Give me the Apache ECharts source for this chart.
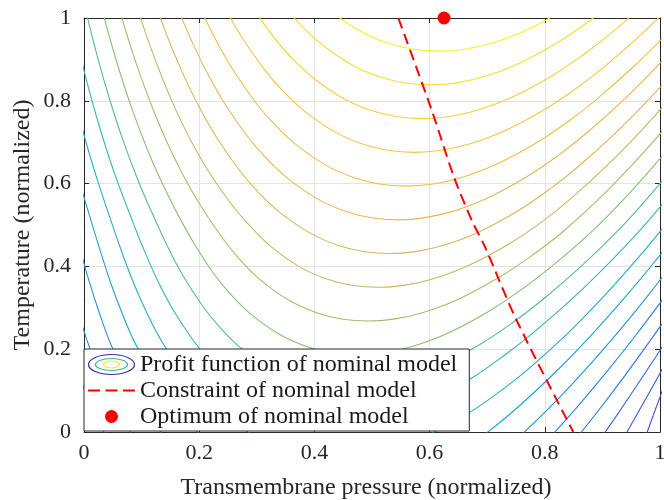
<!DOCTYPE html>
<html>
<head>
<meta charset="utf-8">
<title>Profit function of nominal model</title>
<script src="https://cdn.jsdelivr.net/npm/echarts/dist/echarts.min.js"></script>
<style>
  html, body { margin: 0; padding: 0; background: #fff; }
  #chart { width: 664px; height: 500px; }
</style>
</head>
<body>
<div id="chart"></div>
<script>
// tick values of both axes (normalized)
const tickValues = [0, 0.2, 0.4, 0.6, 0.8, 1];

// contour level of each drawn piece (1 = highest profit, yellow)
const contourLevel = [1, 2, 3, 4, 5, 6, 7, 8, 9, 10, 11, 12, 13, 14, 14, 15, 15, 16, 16, 17, 17, 18, 18, 19, 20];

// contour lines, [pressure, temperature]
const contourPoints = [
  [[0.425,1.02],[0.4774,0.97],[0.5262,0.94],[0.5703,0.925],[0.616,0.92],[0.6635,0.9253],[0.7128,0.9413],[0.7722,0.9733],[0.842,1.0269]],
  [[0.3418,1.0385],[0.3726,0.9885],[0.4107,0.9385],[0.4631,0.8885],[0.5119,0.8585],[0.556,0.8435],[0.6017,0.8385],[0.6492,0.8438],[0.6985,0.8598],[0.7579,0.8919],[0.8277,0.9456],[0.8834,0.9995],[0.9316,1.0536]],
  [[0.2898,1.032],[0.3276,0.957],[0.3583,0.907],[0.3965,0.857],[0.4488,0.807],[0.4977,0.777],[0.5418,0.762],[0.5875,0.757],[0.635,0.7622],[0.6843,0.7778],[0.7436,0.809],[0.8135,0.8612],[0.8691,0.9135],[0.9174,0.966],[0.9814,1.0448]],
  [[0.2444,1.0255],[0.2755,0.9505],[0.3133,0.8755],[0.3441,0.8255],[0.3822,0.7755],[0.4346,0.7255],[0.4834,0.6955],[0.5275,0.6805],[0.5732,0.6755],[0.6207,0.6806],[0.67,0.6961],[0.7294,0.727],[0.7992,0.7786],[0.8549,0.8303],[0.9031,0.8821],[0.9671,0.9599],[1.0246,1.0378]],
  [[0.2034,1.019],[0.2301,0.944],[0.2613,0.869],[0.2991,0.794],[0.3298,0.744],[0.368,0.694],[0.4203,0.644],[0.4692,0.614],[0.5132,0.599],[0.559,0.594],[0.6064,0.5992],[0.6558,0.6147],[0.7151,0.6459],[0.785,0.6979],[0.8406,0.7501],[0.8889,0.8024],[0.9529,0.881],[1.0103,0.9597]],
  [[0.1659,1.0125],[0.1892,0.9375],[0.2158,0.8625],[0.247,0.7875],[0.2848,0.7125],[0.3155,0.6625],[0.3537,0.6125],[0.406,0.5625],[0.4549,0.5325],[0.499,0.5175],[0.5447,0.5125],[0.5922,0.5178],[0.6415,0.5335],[0.7008,0.5652],[0.7707,0.6182],[0.8263,0.6713],[0.8746,0.7246],[0.9386,0.8047],[0.996,0.8851],[1.049,0.9657]],
  [[0.1246,1.031],[0.1516,0.931],[0.1749,0.856],[0.2016,0.781],[0.2328,0.706],[0.2705,0.631],[0.3013,0.581],[0.3394,0.531],[0.3918,0.481],[0.4406,0.451],[0.4847,0.436],[0.5304,0.431],[0.5779,0.4363],[0.6272,0.4521],[0.6866,0.4839],[0.7564,0.537],[0.8121,0.5904],[0.8603,0.6438],[0.9244,0.7243],[0.9818,0.805],[1.0347,0.886]],
  [[0.087,1.0495],[0.1104,0.9495],[0.1374,0.8495],[0.1606,0.7745],[0.1873,0.6995],[0.2185,0.6245],[0.2563,0.5495],[0.287,0.4995],[0.3232,0.4495],[0.3735,0.3995],[0.4212,0.3695],[0.4646,0.3545],[0.5102,0.3495],[0.5578,0.3548],[0.6078,0.3708],[0.6684,0.4029],[0.7405,0.4567],[0.7978,0.5107],[0.8461,0.5648],[0.9101,0.6464],[0.9675,0.7282],[1.0204,0.8103]],
  [[0.0521,1.068],[0.0727,0.968],[0.0961,0.868],[0.1231,0.768],[0.1464,0.693],[0.1731,0.618],[0.2042,0.543],[0.2407,0.468],[0.2695,0.418],[0.3056,0.368],[0.356,0.318],[0.4036,0.288],[0.4471,0.273],[0.4926,0.268],[0.5403,0.2733],[0.5903,0.2894],[0.651,0.3215],[0.7229,0.3754],[0.7808,0.4295],[0.8312,0.4838],[0.8958,0.5655],[0.9533,0.6476],[1.0062,0.7299]],
  [[0.0196,1.0865],[0.0378,0.9865],[0.0584,0.8865],[0.0818,0.7865],[0.1088,0.6865],[0.1321,0.6115],[0.1588,0.5365],[0.1885,0.4615],[0.2232,0.3865],[0.252,0.3365],[0.2881,0.2865],[0.3385,0.2365],[0.3861,0.2065],[0.4299,0.1915],[0.4756,0.1865],[0.5231,0.1918],[0.5727,0.2078],[0.6334,0.2399],[0.7053,0.2937],[0.7632,0.3477],[0.8136,0.4018],[0.8809,0.4834],[0.939,0.5652],[0.9919,0.6473],[1.0414,0.7297]],
  [[0.0054,1.005],[0.0236,0.905],[0.0442,0.805],[0.0676,0.705],[0.0946,0.605],[0.1179,0.53],[0.1427,0.455],[0.1709,0.38],[0.2057,0.305],[0.2344,0.255],[0.2706,0.205],[0.3227,0.155],[0.3716,0.125],[0.4157,0.11],[0.4614,0.105],[0.5089,0.1103],[0.5582,0.1263],[0.6175,0.1583],[0.6879,0.2118],[0.7456,0.2656],[0.7961,0.3195],[0.8633,0.4007],[0.924,0.4822],[0.9777,0.5639],[1.0272,0.6459]],
  [[-0.0089,0.9235],[0.0093,0.8235],[0.0299,0.7235],[0.0533,0.6235],[0.0803,0.5235],[0.1015,0.4485],[0.1252,0.3735],[0.1533,0.2985],[0.1886,0.2235],[0.218,0.1735],[0.2561,0.1235],[0.3085,0.0735],[0.3573,0.0435],[0.4014,0.0285],[0.4471,0.0235],[0.4946,0.0288],[0.5439,0.0448],[0.6033,0.0768],[0.6731,0.1305],[0.7288,0.1843],[0.7785,0.2384],[0.8458,0.3197],[0.9066,0.4014],[0.9627,0.4833],[1.0129,0.5654]],
  [[-0.0049,0.742],[0.0157,0.642],[0.0391,0.542],[0.0638,0.442],[0.084,0.367],[0.1077,0.292],[0.1359,0.217],[0.173,0.142],[0.2037,0.092],[0.2419,0.042],[0.2942,-0.008],[0.3431,-0.038],[0.3871,-0.053],[0.4449,-0.058],[0.4923,-0.0527],[0.5417,-0.0368],[0.601,-0.0048],[0.6709,0.0486],[0.7265,0.1023],[0.7748,0.1561],[0.8388,0.2371],[0.8962,0.3184],[0.9491,0.4],[0.9987,0.4818],[1.0607,0.5912]],
  [[-0.0192,0.6605],[0.0014,0.5605],[0.0232,0.4605],[0.0462,0.3605],[0.0665,0.2855],[0.0901,0.2105],[0.1209,0.1355],[0.1587,0.0605],[0.1894,0.0105],[0.2276,-0.0395]],
  [[0.6566,-0.0457],[0.7122,0.0121],[0.7605,0.0689],[0.8245,0.1528],[0.8819,0.2359],[0.9349,0.3184],[0.9844,0.4003],[1.0464,0.509]],
  [[-0.0137,0.479],[0.0057,0.379],[0.0287,0.279],[0.049,0.204],[0.0755,0.129],[0.1067,0.054],[0.1444,-0.021]],
  [[0.7462,-0.0242],[0.8103,0.0617],[0.8677,0.1465],[0.9206,0.2305],[0.9701,0.3139],[1.0321,0.4245]],
  [[-0.0118,0.2975],[0.0113,0.1975],[0.0345,0.1225],[0.0612,0.0475],[0.0924,-0.0275]],
  [[0.796,-0.0327],[0.8534,0.0559],[0.9063,0.1434],[0.9559,0.2301],[1.0179,0.3447]],
  [[-0.0294,0.216],[-0.003,0.116],[0.0203,0.041],[0.047,-0.034]],
  [[0.8392,-0.042],[0.8921,0.0501],[0.9416,0.1411],[1.0036,0.2612]],
  [[-0.0173,0.0345],[0.006,-0.0405]],
  [[0.8778,-0.0534],[0.9273,0.0451],[0.9893,0.1744],[1.0477,0.3021]],
  [[0.9131,-0.0717],[0.9751,0.0795],[1.0335,0.2276]],
  [[0.9608,-0.0645],[1.0192,0.1577]]
];

// constraint of the nominal model (dashed)
const constraintLine = [[0.5457,1],[0.6035,0.778],[0.642,0.617],[0.673,0.512],[0.696,0.4476],[0.751,0.27],[0.8495,0]];

// optimum of the nominal model
const optimumPoint = [[0.625, 1]];

// parula-like colours, one per level
const levelColors = ['#f7ef22','#f8df2b','#f9cf33','#f6c53e','#f0bc47','#e6b74f','#d8b657','#c4b860','#a9bb6a','#8bbd76',
  '#52bc92','#30b7ac','#22aec3','#1ca2d3','#1d95dc','#2187e1','#2878e2','#3168e0','#3c58da','#4848cf'];

const FONT = '"Liberation Serif", "DejaVu Serif", serif';
const axisColor = '#262626';

var myChart = echarts.init(document.getElementById('chart'));

const series = contourPoints.map((pts, i) => ({
  type: 'line',
  name: 'Profit function of nominal model',
  data: pts,
  symbol: 'none',
  showSymbol: false,
  smooth: 0.4,
  clip: true,
  silent: true,
  z: 2,
  lineStyle: { width: 1.1, color: levelColors[contourLevel[i] - 1] },
  itemStyle: { color: levelColors[contourLevel[i] - 1] }
}));

series.push({
  type: 'line',
  name: 'Constraint of nominal model',
  data: constraintLine,
  symbol: 'none',
  smooth: 0.3,
  clip: true,
  z: 3,
  lineStyle: { color: '#ff0000', width: 2, type: [11, 6] },
  itemStyle: { color: '#ff0000' }
});

series.push({
  type: 'scatter',
  name: 'Optimum of nominal model',
  data: optimumPoint,
  symbol: 'circle',
  symbolSize: 13,
  clip: false,
  z: 6,
  itemStyle: { color: '#ff0000', opacity: 1 }
});

function tickLabel(v) {
  return String(Math.round(v * 10) / 10);
}

const axisMin = tickValues[0];
const axisMax = tickValues[tickValues.length - 1];
const step = tickValues[1] - tickValues[0];

function mainAxis(extra) {
  return Object.assign({
    type: 'value',
    min: axisMin,
    max: axisMax,
    interval: step,
    axisLine: { show: true, onZero: false, lineStyle: { color: axisColor, width: 1 } },
    axisTick: { show: true, inside: true, length: 5, lineStyle: { color: axisColor } },
    splitLine: { show: true, lineStyle: { color: '#e3e3e3', width: 1 } },
    nameLocation: 'middle',
    nameMoveOverlap: false
  }, extra);
}

function frameAxis(extra) {
  return Object.assign({
    type: 'value',
    min: axisMin,
    max: axisMax,
    interval: step,
    axisLine: { show: true, onZero: false, lineStyle: { color: axisColor, width: 1 } },
    axisTick: { show: true, inside: true, length: 5, lineStyle: { color: axisColor } },
    axisLabel: { show: false },
    splitLine: { show: false }
  }, extra);
}

myChart.setOption({
  animation: false,
  backgroundColor: '#ffffff',
  grid: { left: 84, right: 4, top: 18, bottom: 68, containLabel: false, outerBoundsMode: 'none' },
  xAxis: [
    mainAxis({
      position: 'bottom',
      name: 'Transmembrane pressure (normalized)',
      nameGap: 44,
      nameTextStyle: { fontFamily: FONT, fontSize: 24, color: axisColor, padding: [0, 12, 0, 0] },
      axisLabel: { fontFamily: FONT, fontSize: 22, color: axisColor, margin: 10, formatter: tickLabel }
    }),
    frameAxis({ position: 'top' })
  ],
  yAxis: [
    mainAxis({
      position: 'left',
      name: 'Temperature (normalized)',
      nameGap: 49,
      nameRotate: 90,
      nameTextStyle: { fontFamily: FONT, fontSize: 24, color: axisColor },
      axisLabel: { fontFamily: FONT, fontSize: 22, color: axisColor, margin: 13, formatter: tickLabel }
    }),
    frameAxis({ position: 'right' })
  ],
  legend: {
    orient: 'vertical',
    left: 84,
    top: 349,
    data: [
      { name: 'Profit function of nominal model', icon: 'none' },
      { name: 'Constraint of nominal model', icon: 'path://M0,0L12,0L12,2L0,2Z M17.5,0L29.5,0L29.5,2L17.5,2Z M35,0L47,0L47,2L35,2Z' },
      { name: 'Optimum of nominal model', icon: 'circle', itemStyle: { opacity: 1 } }
    ],
    itemWidth: 47,
    itemHeight: 13,
    itemGap: 1,
    padding: [3, 12, 2, 4],
    backgroundColor: '#ffffff',
    borderColor: axisColor,
    borderWidth: 1,
    borderRadius: 0,
    selectedMode: false,
    textStyle: { fontFamily: FONT, fontSize: 24, lineHeight: 25, color: '#1a1a1a' }
  },
  // nested rings used as the contour legend icon
  graphic: [
    { type: 'ellipse', z: 100, shape: { cx: 111.5, cy: 364.5, rx: 23, ry: 10 }, style: { fill: 'none', stroke: '#3e26a8', lineWidth: 1.2 } },
    { type: 'ellipse', z: 100, shape: { cx: 111.5, cy: 364.5, rx: 16, ry: 6 }, style: { fill: 'none', stroke: '#30b8a4', lineWidth: 1.2 } },
    { type: 'ellipse', z: 100, shape: { cx: 111.5, cy: 364.5, rx: 8, ry: 3.5 }, style: { fill: 'none', stroke: '#f0e81c', lineWidth: 1.2 } }
  ],
  series: series
});
</script>
</body>
</html>
